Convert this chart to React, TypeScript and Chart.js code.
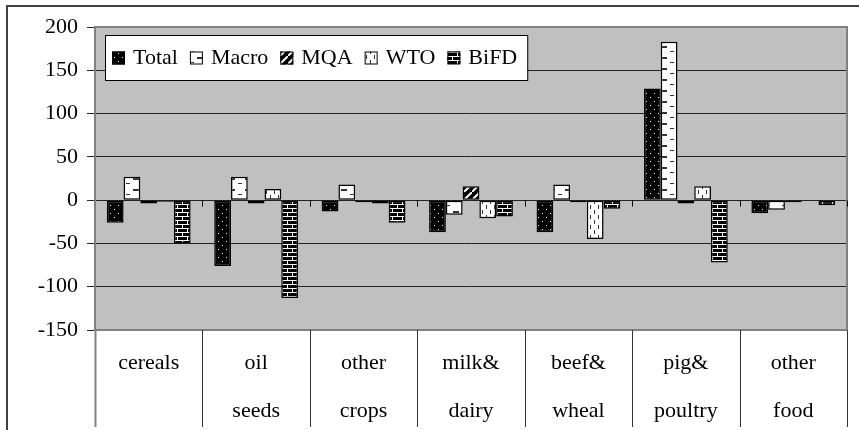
import React, { useEffect, useRef } from 'react';
import { Chart, registerables } from 'chart.js';
Chart.register(...registerables);

const categories: string[][] = [
  ['cereals'],
  ['oil', 'seeds'],
  ['other', 'crops'],
  ['milk&', 'dairy'],
  ['beef&', 'wheal'],
  ['pig&', 'poultry'],
  ['other', 'food'],
];
const seriesNames = ['Total', 'Macro', 'MQA', 'WTO', 'BiFD'];
const totalValues = [-26, -76, -13, -37, -37, 129, -15];
const macroValues = [27, 27, 18, -17, 18, 183, -11];
const mqaValues = [-4, -4, -2.5, 16, -2.5, -4, -2.5];
const wtoValues = [-2, 13, -4, -21, -45, 16, 0];
const bifdValues = [-50, -113, -26, -19, -10, -72, -6];
const seriesValues = [totalValues, macroValues, mqaValues, wtoValues, bifdValues];
const yMin = -150;
const yMax = 200;
const yStep = 50;

const FONT = "'Liberation Serif', 'Times New Roman', serif";
const patternKinds = ['dots', 'hdash', 'diag', 'vdash', 'brick'];

function makePattern(kind: string): CanvasPattern {
  const c = document.createElement('canvas');
  let w = 8, h = 8;
  if (kind === 'hdash') { w = 16; h = 11; }
  if (kind === 'vdash') { w = 8; h = 10; }
  if (kind === 'brick') { w = 10; h = 8; }
  c.width = w; c.height = h;
  const g = c.getContext('2d')!;
  if (kind === 'dots') {
    g.fillStyle = '#000'; g.fillRect(0, 0, w, h);
    g.fillStyle = '#fff'; g.fillRect(2, 1, 1, 1); g.fillRect(6, 5, 1, 1);
  } else if (kind === 'hdash') {
    g.fillStyle = '#fff'; g.fillRect(0, 0, w, h);
    g.fillStyle = '#333'; g.fillRect(5, 2, 6, 2); g.fillRect(0, 7, 2, 1); g.fillRect(14, 7, 2, 1);
  } else if (kind === 'diag') {
    g.fillStyle = '#000'; g.fillRect(0, 0, w, h);
    g.strokeStyle = '#fff'; g.lineWidth = 2;
    g.beginPath(); g.moveTo(-1, 9); g.lineTo(9, -1); g.stroke();
  } else if (kind === 'vdash') {
    g.fillStyle = '#fff'; g.fillRect(0, 0, w, h);
    g.fillStyle = '#333'; g.fillRect(2, 0, 1, 4); g.fillRect(6, 5, 1, 4);
  } else {
    g.fillStyle = '#000'; g.fillRect(0, 0, w, h);
    g.fillStyle = '#fff';
    g.fillRect(0, 0, w, 1); g.fillRect(0, 4, w, 1);
    g.fillRect(2, 0, 1, 4); g.fillRect(7, 4, 1, 4);
  }
  return g.createPattern(c, 'repeat')!;
}

const decorPlugin = {
  id: 'decor',
  beforeDraw(chart: any) {
    const ctx = chart.ctx;
    const a = chart.chartArea;
    ctx.save();
    ctx.fillStyle = '#fff';
    ctx.fillRect(0, 0, chart.width, chart.height);
    ctx.strokeStyle = '#404040';
    ctx.lineWidth = 2;
    ctx.strokeRect(7, 6, 900, 500);
    ctx.fillStyle = '#c0c0c0';
    ctx.fillRect(a.left, a.top, a.right - a.left, a.bottom - a.top);
    ctx.restore();
  },
  beforeDatasetsDraw(chart: any) {
    const ctx = chart.ctx;
    const a = chart.chartArea;
    const y = chart.scales.y;
    const n = chart.data.labels.length;
    const cw = (a.right - a.left) / n;
    ctx.save();
    ctx.strokeStyle = '#808080';
    ctx.lineWidth = 2;
    ctx.strokeRect(a.left, a.top, a.right - a.left, a.bottom - a.top);
    const y0 = Math.round(y.getPixelForValue(0)) + 0.5;
    ctx.strokeStyle = '#000';
    ctx.lineWidth = 1;
    ctx.beginPath();
    for (let i = 1; i <= n; i++) {
      const px = Math.round(a.left + i * cw) + 0.5;
      ctx.moveTo(px, y0);
      ctx.lineTo(px, y0 + 6);
    }
    ctx.stroke();
    for (let i = 0; i <= n; i++) {
      const px = Math.round(a.left + i * cw) + 0.5;
      ctx.strokeStyle = i === 0 ? '#808080' : '#333';
      ctx.lineWidth = i === 0 ? 2 : 1;
      ctx.beginPath();
      ctx.moveTo(px, a.bottom);
      ctx.lineTo(px, 427);
      ctx.stroke();
    }
    ctx.restore();
  },
  afterDatasetsDraw(chart: any) {
    const ctx = chart.ctx;
    const a = chart.chartArea;
    const ds = chart.data.datasets;
    ctx.save();
    ctx.font = `22px ${FONT}`;
    const boxLeft = a.left + 10;
    const top = 35, bottom = 80;
    const cy = (top + bottom) / 2;
    let px = boxLeft + 7;
    let lastEnd = px;
    const items: any[] = [];
    ds.forEach((d: any) => {
      const tw = ctx.measureText(d.label).width;
      items.push({ sx: px, tx: px + 21, label: d.label, bg: d.backgroundColor });
      lastEnd = px + 21 + tw;
      px = lastEnd + 12;
    });
    const boxRight = lastEnd + 10;
    ctx.fillStyle = '#fff';
    ctx.fillRect(boxLeft, top, boxRight - boxLeft, bottom - top);
    ctx.strokeStyle = '#000';
    ctx.lineWidth = 1;
    ctx.strokeRect(boxLeft + 0.5, top + 0.5, boxRight - boxLeft, bottom - top);
    items.forEach((it) => {
      ctx.fillStyle = it.bg;
      ctx.fillRect(it.sx, cy - 6, 13, 13);
      ctx.strokeStyle = '#000';
      ctx.lineWidth = 1;
      ctx.strokeRect(it.sx + 0.5, cy - 5.5, 12, 12);
      ctx.fillStyle = '#000';
      ctx.textBaseline = 'middle';
      ctx.textAlign = 'left';
      ctx.fillText(it.label, it.tx, cy + 1);
    });
    ctx.restore();
  },
};

export default function App() {
  const ref = useRef<HTMLCanvasElement | null>(null);
  useEffect(() => {
    const canvas = ref.current!;
    const patterns = patternKinds.map(makePattern);
    const chart = new Chart(canvas, {
      type: 'bar',
      data: {
        labels: categories,
        datasets: seriesNames.map((name, i) => ({
          label: name,
          data: seriesValues[i],
          backgroundColor: patterns[i],
          borderColor: '#000',
          borderWidth: 1.5,
          borderSkipped: false,
          categoryPercentage: 0.78,
          barPercentage: 1,
        })),
      },
      options: {
        responsive: false,
        animation: false,
        events: [],
        layout: { padding: { left: 8, top: 27, right: 12, bottom: 0 } },
        plugins: { legend: { display: false }, tooltip: { enabled: false } },
        scales: {
          x: {
            grid: { display: false, drawTicks: false },
            border: { display: false },
            ticks: {
              font: { family: FONT, size: 22, lineHeight: 2.18 },
              color: '#000',
              padding: 9,
              maxRotation: 0,
              autoSkip: false,
            },
            afterFit: (s: any) => { s.height = 100; },
          },
          y: {
            min: yMin,
            max: yMax,
            ticks: { stepSize: yStep, font: { family: FONT, size: 22 }, color: '#000', padding: 9 },
            grid: { color: '#222', lineWidth: 1, tickLength: 8, tickColor: '#222' },
            border: { display: true, color: '#555', width: 1 },
            afterFit: (s: any) => { s.width = 87; },
          },
        },
      } as any,
      plugins: [decorPlugin],
    });
    return () => chart.destroy();
  }, []);
  return (
    <div style={{ position: 'absolute', left: 0, top: 0, width: 859, height: 430 }}>
      <canvas ref={ref} width={859} height={430} style={{ display: 'block', width: 859, height: 430 }} />
    </div>
  );
}
